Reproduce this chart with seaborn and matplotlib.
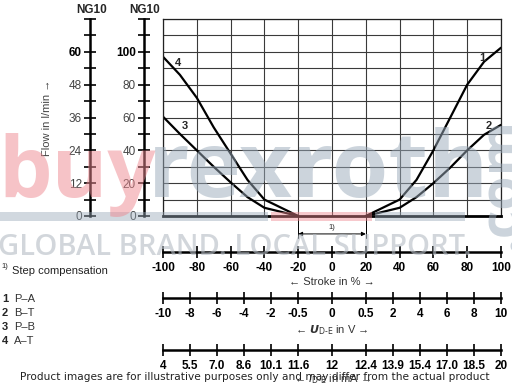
import numpy as np
import pandas as pd
import matplotlib
matplotlib.use("Agg")
import matplotlib.pyplot as plt
import matplotlib.transforms as mtrans
import seaborn as sns

# ---------------- data ----------------
stroke_pa = [20, 30, 40, 50, 60, 70, 80, 90, 100]
flow_pa = [0, 5, 10, 22, 40, 60, 80, 94, 102.5]
stroke_bt = [20, 30, 40, 50, 60, 70, 80, 90, 100]
flow_bt = [0, 2.5, 5, 11.5, 20, 29.5, 40, 49.5, 55.5]
stroke_pb = [-100, -90, -80, -70, -60, -50, -40, -30, -20]
flow_pb = [60.5, 50, 40, 30, 20.5, 11.5, 5, 2.5, 0]
stroke_at = [-100, -90, -80, -70, -60, -50, -40, -30, -20]
flow_at = [97, 86, 72, 54, 38, 22, 10, 5, 0]
curve_ids = ["1", "2", "3", "4"]
curve_names = ["P–A", "B–T", "P–B", "A–T"]

stroke_ticks = [-100, -80, -60, -40, -20, 0, 20, 40, 60, 80, 100]
volt_pos = [-100, -84, -68, -52, -36, -20, 0, 20, 36, 52, 68, 84, 100]
volt_labels = ["-10", "-8", "-6", "-4", "-2", "-0.5", "0", "0.5", "2", "4", "6", "8", "10"]
curr_labels = ["4", "5.5", "7.0", "8.6", "10.1", "11.6", "12", "12.4", "13.9", "15.4", "17.0", "18.5", "20"]
flow_ticks = list(range(0, 73, 6))
flow_labels = ["0", "", "12", "", "24", "", "36", "", "48", "", "60", "", ""]
ng_ticks = list(range(0, 121, 10))
ng_labels = ["0", "", "20", "", "40", "", "60", "", "80", "", "100", "", ""]

df = pd.concat([
    pd.DataFrame({"stroke": stroke_pa, "flow": flow_pa, "curve": "1"}),
    pd.DataFrame({"stroke": stroke_bt, "flow": flow_bt, "curve": "2"}),
    pd.DataFrame({"stroke": stroke_pb, "flow": flow_pb, "curve": "3"}),
    pd.DataFrame({"stroke": stroke_at, "flow": flow_at, "curve": "4"}),
])

sns.set_style("white")
FONT = ["Liberation Sans Narrow", "Liberation Sans", "DejaVu Sans"]
plt.rcParams["font.family"] = FONT

W, H = 512, 388
fig = plt.figure(figsize=(W / 100, H / 100), dpi=100)
fig.patch.set_facecolor("white")


def fx(px):
    return px / W


def fy(py):
    return 1 - py / H


L, R, T, B = 163, 501, 19, 216
ax = fig.add_axes([fx(L), fy(B), fx(R) - fx(L), fy(T) - fy(B)])
ax.set_xlim(-100, 100)
ax.set_ylim(0, 120)
ax.set_xticks(np.arange(-100, 101, 20))
ax.set_yticks(np.arange(0, 121, 10))
ax.grid(True, color="#3a3a3a", lw=0.8)
ax.tick_params(length=0, labelbottom=False, labelleft=False)
for s in ax.spines.values():
    s.set_color("#222")
    s.set_linewidth(0.9)
ax.spines["bottom"].set_linewidth(2.0)
ax.spines["bottom"].set_color("black")

sns.lineplot(data=df, x="stroke", y="flow", hue="curve", palette=["black"] * 4,
             legend=False, ax=ax, lw=1.6)
ax.set_xlabel("")
ax.set_ylabel("")

for txt, xx, yy in [("4", -91, 93), ("3", -87, 55), ("1", 89, 96), ("2", 93, 55)]:
    ax.text(xx, yy, txt, fontsize=8, fontweight="bold", ha="center", va="center")

# step compensation marker
trans = mtrans.blended_transform_factory(ax.transData, ax.transAxes)
for xv in (-20, 20):
    ax.plot([xv, xv], [0, -0.112], transform=trans, color="black", lw=0.7, clip_on=False)
ax.annotate("", xy=(20, -0.091), xytext=(-20, -0.091), xycoords=trans, textcoords=trans,
            arrowprops=dict(arrowstyle="<|-|>", color="black", lw=0.7, mutation_scale=6,
                            shrinkA=0, shrinkB=0))
ax.text(0, -0.06, "1)", transform=trans, fontsize=5.5, ha="center", va="center")


# ------------- vertical scales -------------
def vscale(xpx, ymax, ticks, labels, boldlab):
    a = fig.add_axes([fx(xpx), fy(B), 0.0001, fy(T) - fy(B)])
    a.set_facecolor("none")
    for k, s in a.spines.items():
        s.set_visible(k == "left")
    a.spines["left"].set_linewidth(1.8)
    a.spines["left"].set_color("black")
    a.set_ylim(0, ymax)
    a.set_xticks([])
    a.set_yticks(ticks)
    a.set_yticklabels(labels)
    a.tick_params(axis="y", left=True, direction="inout", length=8.5, width=1.2, pad=1.5,
                  labelsize=8.5, colors="black", labelcolor="#444")
    for t in a.get_yticklabels():
        if t.get_text() == boldlab:
            t.set_fontweight("bold")
            t.set_color("black")
    return a


vscale(90, 72, flow_ticks, flow_labels, "60")
vscale(144, 120, ng_ticks, ng_labels, "100")
fig.text(fx(92), fy(10), "NG10", fontsize=8.5, fontweight="bold", ha="center", va="center")
fig.text(fx(145), fy(10), "NG10", fontsize=8.5, fontweight="bold", ha="center", va="center")
fig.text(fx(47), fy(118), "Flow in l/min →", fontsize=8, rotation=90, ha="center",
         va="center", color="#444", family=FONT + ["DejaVu Sans"])


# ------------- horizontal scales -------------
def hscale(ypx, pos, labels):
    a = fig.add_axes([fx(L), fy(ypx), fx(R) - fx(L), 0.0001])
    a.set_facecolor("none")
    for k, s in a.spines.items():
        s.set_visible(k == "bottom")
    a.spines["bottom"].set_linewidth(1.8)
    a.spines["bottom"].set_color("black")
    a.set_xlim(-100, 100)
    a.set_yticks([])
    a.set_xticks(pos)
    a.set_xticklabels(labels, fontweight="bold")
    a.tick_params(axis="x", bottom=True, direction="inout", length=9, width=1.2, pad=3,
                  labelsize=8.5, colors="black")
    return a


hscale(252, stroke_ticks, [str(v) for v in stroke_ticks])
hscale(298, volt_pos, volt_labels)
hscale(350, volt_pos, curr_labels)
fig.text(fx(332), fy(282), "← Stroke in % →", fontsize=8, ha="center", va="center",
         color="#333", family=FONT + ["DejaVu Sans"])
fig.text(fx(332), fy(330), r"← $\mathbfit{U}_{\mathrm{D\text{-}E}}$ in V →", fontsize=8,
         ha="center", va="center", color="#333", family=FONT + ["DejaVu Sans"])
fig.text(fx(332), fy(379), r"← $\mathit{I}_{\mathrm{D\text{-}E}}$ in mA →", fontsize=8,
         ha="center", va="center", color="#333", family=FONT + ["DejaVu Sans"])

# ------------- legend text -------------
fig.text(fx(1), fy(267), "1)", fontsize=5.5, ha="left", va="center")
fig.text(fx(12), fy(271), "Step compensation", fontsize=8, ha="left", va="center", color="#222")
for i, (cid, nm) in enumerate(zip(curve_ids, curve_names)):
    yy = 299 + i * 14
    fig.text(fx(2), fy(yy), cid, fontsize=8, fontweight="bold", ha="left", va="center")
    fig.text(fx(14), fy(yy), nm, fontsize=8, ha="left", va="center", color="#333")

# ------------- watermark overlay -------------
wm_grey = "#9aaaba"
wm_pink = "#ee8890"
fig.text(fx(-2), fy(197), "buy", fontsize=61, fontweight="bold", family="Open Sans",
         color=wm_pink, alpha=0.5, ha="left", va="baseline", zorder=20)
fig.text(fx(148), fy(197), "rexroth", fontsize=66, fontweight="bold", family="Open Sans",
         color=wm_grey, alpha=0.5, ha="left", va="baseline", zorder=20)
fig.text(fx(503), fy(183), ".com", fontsize=40, fontweight="bold", family="Open Sans",
         color=wm_grey, alpha=0.5, rotation=90, ha="center", va="center", zorder=20)
fig.text(fx(-2), fy(248), "GLOBAL BRAND. LOCAL SUPPORT.", fontsize=21, family="Open Sans",
         fontweight="semibold", color="#b4bcc4", alpha=0.6, ha="left", va="center", zorder=20)
for x0, x1, c in [(0, 268, wm_grey), (271, 372, wm_pink), (375, 465, wm_grey)]:
    fig.patches.append(plt.Rectangle((fx(x0), fy(221)), fx(x1) - fx(x0), 9 / H,
                                     transform=fig.transFigure, color=c, alpha=0.45,
                                     zorder=20, lw=0))
fig.text(fx(255), fy(377),
         "Product images are for illustrative purposes only and may differ from the actual product",
         fontsize=7.6, family="DejaVu Sans", color="#222", ha="center", va="center", zorder=25)

fig.savefig("out.png", dpi=100, facecolor="white")
